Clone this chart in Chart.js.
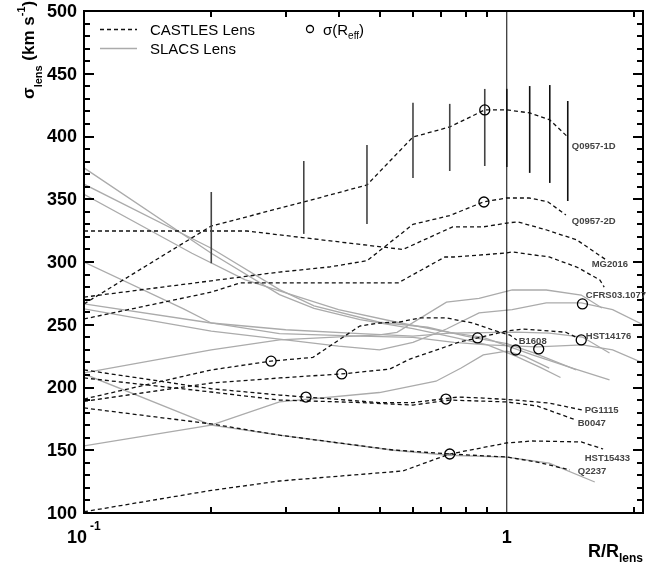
<!DOCTYPE html>
<html>
<head>
<meta charset="utf-8">
<title>Lens velocity dispersion profiles</title>
<script src="https://cdn.jsdelivr.net/npm/chart.js@4.4.0/dist/chart.umd.min.js"></script>
<style>
  html, body { margin: 0; padding: 0; background: #fff; }
  #wrap { width: 656px; height: 564px; }
</style>
</head>
<body>
<div id="wrap"><canvas id="chart" width="656" height="564"></canvas></div>
<script>
'use strict'

//------------------Axis ranges & ticks----------------------//
var xMin = 0.1;
var xMax = 2.1;
var yMin = 100;
var yMax = 500;
var yTicks = [100, 150, 200, 250, 300, 350, 400, 450, 500];
var xMinorTicks = [0.2, 0.3, 0.4, 0.5, 0.6, 0.7, 0.8, 0.9, 2];
var refLineR = 1;

//------------------CASTLES lenses (dashed)----------------------// R/Rlens and sigma
var q0957_1dR = [0.1, 0.2, 0.331, 0.467, 0.6, 0.733, 0.887, 1.0, 1.133, 1.264, 1.394];
var q0957_1dS = [266.6, 328.7, 347.8, 361.4, 399.6, 407.6, 421.2, 421.2, 418.8, 413.2, 399.6];
var q0957_2dR = [0.1, 0.2, 0.29, 0.38, 0.467, 0.6, 0.733, 0.883, 1.0, 1.13, 1.25, 1.38];
var q0957_2dS = [272, 285, 292, 296, 301, 330, 337, 348, 351, 351, 348, 337.5];
var mg2016R = [0.1, 0.243, 0.568, 0.745, 0.88, 1.0, 1.06, 1.243, 1.464, 1.72];
var mg2016S = [324.7, 324.7, 310, 328, 328, 331, 332, 325.5, 317.6, 301.6];
var cfrsR = [0.1, 0.2, 0.234, 0.553, 0.714, 0.75, 1.0, 1.03, 1.26, 1.464, 1.66, 1.7];
var cfrsS = [254.6, 276, 283.3, 283.3, 304, 304, 307.2, 308, 304, 296, 285.7, 280];
var hst14176R = [0.1, 0.2, 0.29, 0.407, 0.529, 0.59, 0.774, 0.853, 1.0, 1.09, 1.38, 1.46];
var hst14176S = [189, 203.6, 207.6, 210.8, 214.7, 222.7, 236.3, 239.5, 245, 246.6, 244, 240];
var b1608R = [0.1, 0.2, 0.277, 0.348, 0.449, 0.5, 0.558, 0.623, 0.72, 0.83, 0.927, 1.017, 1.056];
var b1608S = [190.8, 214, 221, 224, 249, 251.4, 252.2, 255.4, 255.4, 251.4, 245.8, 241.8, 237.9];
var pg1115R = [0.1, 0.2, 0.29, 0.335, 0.5, 0.6, 0.733, 0.77, 0.88, 1.05, 1.26, 1.51];
var pg1115S = [214, 199, 194, 192.4, 188, 188, 191.6, 192.4, 191.6, 190, 187.6, 182];
var b0047R = [0.1, 0.2, 0.29, 0.45, 0.6, 0.733, 1.0, 1.18, 1.31, 1.46];
var b0047S = [207.6, 196.4, 190, 188, 186, 190, 188.5, 185.3, 179.7, 174];
var hst15433R = [0.1, 0.2, 0.29, 0.568, 0.733, 1.0, 1.15, 1.5, 1.69];
var hst15433S = [101, 118, 125.5, 133.5, 147, 155.8, 157.4, 156.6, 151];
var q2237R = [0.1, 0.2, 0.29, 0.538, 0.733, 1.0, 1.18, 1.41];
var q2237S = [183.7, 171, 162, 150.2, 147, 144.6, 140.6, 134.3];

//------------------SLACS lenses (grey)----------------------//
var slacs1R = [0.1, 0.2, 0.29, 0.35, 0.45, 0.6, 0.75, 0.9, 1.05, 1.2, 1.34];
var slacs1S = [375, 307, 274, 263, 254, 247, 240, 234, 225, 216, 208];
var slacs2R = [0.1, 0.2, 0.29, 0.35, 0.5, 0.65, 0.8, 1.0, 1.15, 1.46];
var slacs2S = [362, 311, 278, 265, 252, 248, 241, 235, 228, 214];
var slacs3R = [0.1, 0.18, 0.24, 0.29, 0.4, 0.55, 0.73, 0.88, 1.15, 1.43, 1.75];
var slacs3S = [354, 307, 286, 277, 262, 252, 244, 240, 226, 215.5, 206];
var slacs4R = [0.1, 0.172, 0.2, 0.29, 0.45, 0.6, 0.75, 0.9, 1.18, 1.51, 1.78, 2.1];
var slacs4S = [300, 262.6, 251.4, 243, 241, 240, 236, 234, 232.3, 233.9, 230, 219.5];
var slacs5R = [0.1, 0.2, 0.3, 0.45, 0.6, 0.733, 1.05, 1.26, 1.51, 1.75];
var slacs5S = [266.6, 251.4, 246, 243, 241, 243.4, 244.2, 243.4, 240.2, 227.5];
var slacs6R = [0.1, 0.2, 0.3, 0.4, 0.5, 0.6, 0.72, 0.86, 1.03, 1.24, 1.5, 1.78, 2.1];
var slacs6S = [262.6, 245, 238, 233, 230, 236, 246.6, 259.4, 262, 267.4, 267.4, 262, 250];
var slacs7R = [0.1, 0.2, 0.29, 0.5, 0.55, 0.72, 0.86, 1.03, 1.24, 1.5, 1.68];
var slacs7S = [211.6, 230, 238, 242, 244, 268, 271, 277.7, 277.7, 273.7, 263.4];
var slacs8R = [0.1, 0.2, 0.29, 0.54, 0.73, 1.0, 1.26, 1.615];
var slacs8S = [210.8, 170, 162, 150, 146, 144.6, 139.8, 124.7];
var slacs9R = [0.1, 0.2, 0.29, 0.5, 0.68, 0.78, 0.88, 1.0, 1.1, 1.26];
var slacs9S = [153.4, 170, 188.5, 196, 205, 215.5, 226, 229, 225, 215.5];

//------------------sigma(Reff) circles----------------------//
var reffR = [0.887, 0.883, 1.51, 0.277, 0.407, 0.853, 1.05, 1.19, 1.5, 0.335, 0.718, 0.733];
var reffS = [421.2, 347.8, 266.6, 221, 210.8, 239.5, 229.9, 230.7, 237.9, 192.4, 190.8, 147];

//------------------Q0957 error bars----------------------//
var errR = [0.2, 0.331, 0.467, 0.6, 0.733, 0.887, 1.0, 1.133, 1.264, 1.394];
var errLo = [299, 322.4, 330.3, 367, 372.5, 376.5, 375.7, 371, 363, 348.6];
var errHi = [355.8, 380.5, 393.3, 426.8, 426, 437.9, 438, 440.2, 441, 428.3];

var castles = [
  ['Q0957-1D', q0957_1dR, q0957_1dS], ['Q0957-2D', q0957_2dR, q0957_2dS],
  ['MG2016', mg2016R, mg2016S], ['CFRS03.1077', cfrsR, cfrsS],
  ['HST14176', hst14176R, hst14176S], ['B1608', b1608R, b1608S],
  ['PG1115', pg1115R, pg1115S], ['B0047', b0047R, b0047S],
  ['HST15433', hst15433R, hst15433S], ['Q2237', q2237R, q2237S]
];
var slacs = [
  [slacs1R, slacs1S], [slacs2R, slacs2S], [slacs3R, slacs3S],
  [slacs4R, slacs4S], [slacs5R, slacs5S], [slacs6R, slacs6S],
  [slacs7R, slacs7S], [slacs8R, slacs8S], [slacs9R, slacs9S]
];

// where each lens name is written (data units)
var lensLabels = [
  ['Q0957-1D', 1.425, 392.4], ['Q0957-2D', 1.425, 332.7], ['MG2016', 1.588, 298.4],
  ['CFRS03.1077', 1.538, 273.7], ['HST14176', 1.538, 241], ['B1608', 1.067, 237],
  ['PG1115', 1.529, 182], ['B0047', 1.472, 171.7], ['HST15433', 1.529, 143.8],
  ['Q2237', 1.472, 133.5]
];

var FONT = '"Liberation Sans", Arial, Helvetica, sans-serif';

function toPoints(r, s) {
  let out = [];
  for (let i = 0; i < r.length; i++) {
    out.push({x: r[i], y: s[i]});
  }
  return out;
}

//------------------Datasets----------------------//
var datasets = [];

datasets.push({
  data: toPoints(reffR, reffS),
  showLine: false,
  pointRadius: 5,
  pointBorderWidth: 1.3,
  pointBorderColor: '#000',
  pointBackgroundColor: 'rgba(0,0,0,0)',
  order: 0
});

for (let i = 0; i < errR.length; i++) {
  datasets.push({
    data: [{x: errR[i], y: errLo[i]}, {x: errR[i], y: errHi[i]}],
    showLine: true,
    borderColor: i < 6 ? '#444' : '#111',
    borderWidth: 1.6,
    pointRadius: 0,
    order: 1
  });
}

datasets.push({
  data: [{x: refLineR, y: yMin}, {x: refLineR, y: yMax}],
  showLine: true,
  borderColor: '#000',
  borderWidth: 1,
  pointRadius: 0,
  order: 1
});

castles.forEach(function(lens) {
  datasets.push({
    label: lens[0],
    data: toPoints(lens[1], lens[2]),
    showLine: true,
    borderColor: '#111',
    borderWidth: 1.3,
    borderDash: [4, 3],
    pointRadius: 0,
    order: 2
  });
});

slacs.forEach(function(lens) {
  datasets.push({
    data: toPoints(lens[0], lens[1]),
    showLine: true,
    borderColor: '#ababab',
    borderWidth: 1.3,
    pointRadius: 0,
    order: 3
  });
});

//------------------Text helper----------------------// draws runs of text with sub/superscripts
function drawParts(ctx, parts, x, y) {
  parts.forEach(function(p) {
    ctx.font = p.font;
    ctx.fillText(p.text, x, y + (p.dy || 0));
    x += ctx.measureText(p.text).width;
  });
  return x;
}

//------------------Frame, ticks, legend----------------------//
var framePlugin = {
  id: 'framePlugin',
  afterDraw: function(chart) {
    let ctx = chart.ctx;
    let a = chart.chartArea;
    let xs = chart.scales.x;
    let ys = chart.scales.y;
    ctx.save();
    ctx.setLineDash([]);

    // frame
    ctx.strokeStyle = '#000';
    ctx.lineWidth = 2;
    ctx.strokeRect(a.left, a.top, a.right - a.left, a.bottom - a.top);

    // ticks pointing inward on all four sides
    ctx.fillStyle = '#000';
    for (let v = yMin; v <= yMax; v += 10) {
      let py = Math.round(ys.getPixelForValue(v));
      let len = (v % 50 === 0) ? 10 : 6;
      ctx.fillRect(a.left, py - 1, len, 2);
      ctx.fillRect(a.right - len, py - 1, len, 2);
    }
    xMinorTicks.forEach(function(v) {
      let px = Math.round(xs.getPixelForValue(v));
      ctx.fillRect(px - 1, a.bottom - 6, 2, 6);
      ctx.fillRect(px - 1, a.top, 2, 6);
    });

    // y tick labels
    ctx.font = 'bold 18px ' + FONT;
    ctx.textAlign = 'right';
    ctx.textBaseline = 'middle';
    yTicks.forEach(function(v) {
      ctx.fillText(String(v), a.left - 7, ys.getPixelForValue(v) + 1);
    });

    // x tick labels
    ctx.textBaseline = 'alphabetic';
    ctx.textAlign = 'right';
    let p01 = xs.getPixelForValue(0.1);
    ctx.fillText('10', p01 + 3, 543);
    ctx.textAlign = 'left';
    ctx.font = 'bold 12px ' + FONT;
    ctx.fillText('-1', p01 + 6, 530);
    ctx.textAlign = 'center';
    ctx.font = 'bold 18px ' + FONT;
    ctx.fillText('1', xs.getPixelForValue(1), 543);

    // axis titles
    ctx.textAlign = 'left';
    drawParts(ctx, [
      {text: 'R/R', font: 'bold 18px ' + FONT},
      {text: 'lens', font: 'bold 12px ' + FONT, dy: 5}
    ], 588, 557);

    ctx.save();
    ctx.translate(34, 99);
    ctx.rotate(-Math.PI / 2);
    drawParts(ctx, [
      {text: 'σ', font: 'bold 17px ' + FONT},
      {text: 'lens', font: 'bold 11px ' + FONT, dy: 8},
      {text: ' (km s', font: 'bold 17px ' + FONT},
      {text: '-1', font: 'bold 11px ' + FONT, dy: -9},
      {text: ')', font: 'bold 17px ' + FONT}
    ], 0, 0);
    ctx.restore();

    // legend
    ctx.lineWidth = 1.3;
    ctx.strokeStyle = '#111';
    ctx.setLineDash([4, 3]);
    ctx.beginPath();
    ctx.moveTo(100, 29.5); ctx.lineTo(137, 29.5);
    ctx.stroke();
    ctx.setLineDash([]);
    ctx.strokeStyle = '#ababab';
    ctx.beginPath();
    ctx.moveTo(100, 48.5); ctx.lineTo(137, 48.5);
    ctx.stroke();
    ctx.strokeStyle = '#000';
    ctx.beginPath();
    ctx.arc(310, 29, 3.5, 0, Math.PI * 2);
    ctx.stroke();

    ctx.fillStyle = '#000';
    ctx.font = '15px ' + FONT;
    ctx.fillText('CASTLES Lens', 150, 35);
    ctx.fillText('SLACS Lens', 150, 54);
    drawParts(ctx, [
      {text: 'σ(R', font: '15px ' + FONT},
      {text: 'eff', font: '10px ' + FONT, dy: 4},
      {text: ')', font: '15px ' + FONT}
    ], 323, 35);

    // lens names next to their curves
    ctx.fillStyle = '#444';
    ctx.font = 'bold 9.5px ' + FONT;
    ctx.textBaseline = 'middle';
    lensLabels.forEach(function(l) {
      ctx.fillText(l[0], xs.getPixelForValue(l[1]), ys.getPixelForValue(l[2]));
    });

    ctx.restore();
  }
};

//------------------Chart----------------------//
var chartEl = document.getElementById('chart');
var lensChart = new Chart(chartEl.getContext('2d'), {
  type: 'scatter',
  data: {datasets: datasets},
  options: {
    responsive: false,
    animation: false,
    events: [],
    layout: {padding: {left: 84, top: 11, right: 13, bottom: 51}},
    plugins: {
      legend: {display: false},
      tooltip: {enabled: false}
    },
    scales: {
      x: {type: 'logarithmic', min: xMin, max: xMax, display: false},
      y: {type: 'linear', min: yMin, max: yMax, display: false}
    }
  },
  plugins: [framePlugin]
});
</script>
</body>
</html>
